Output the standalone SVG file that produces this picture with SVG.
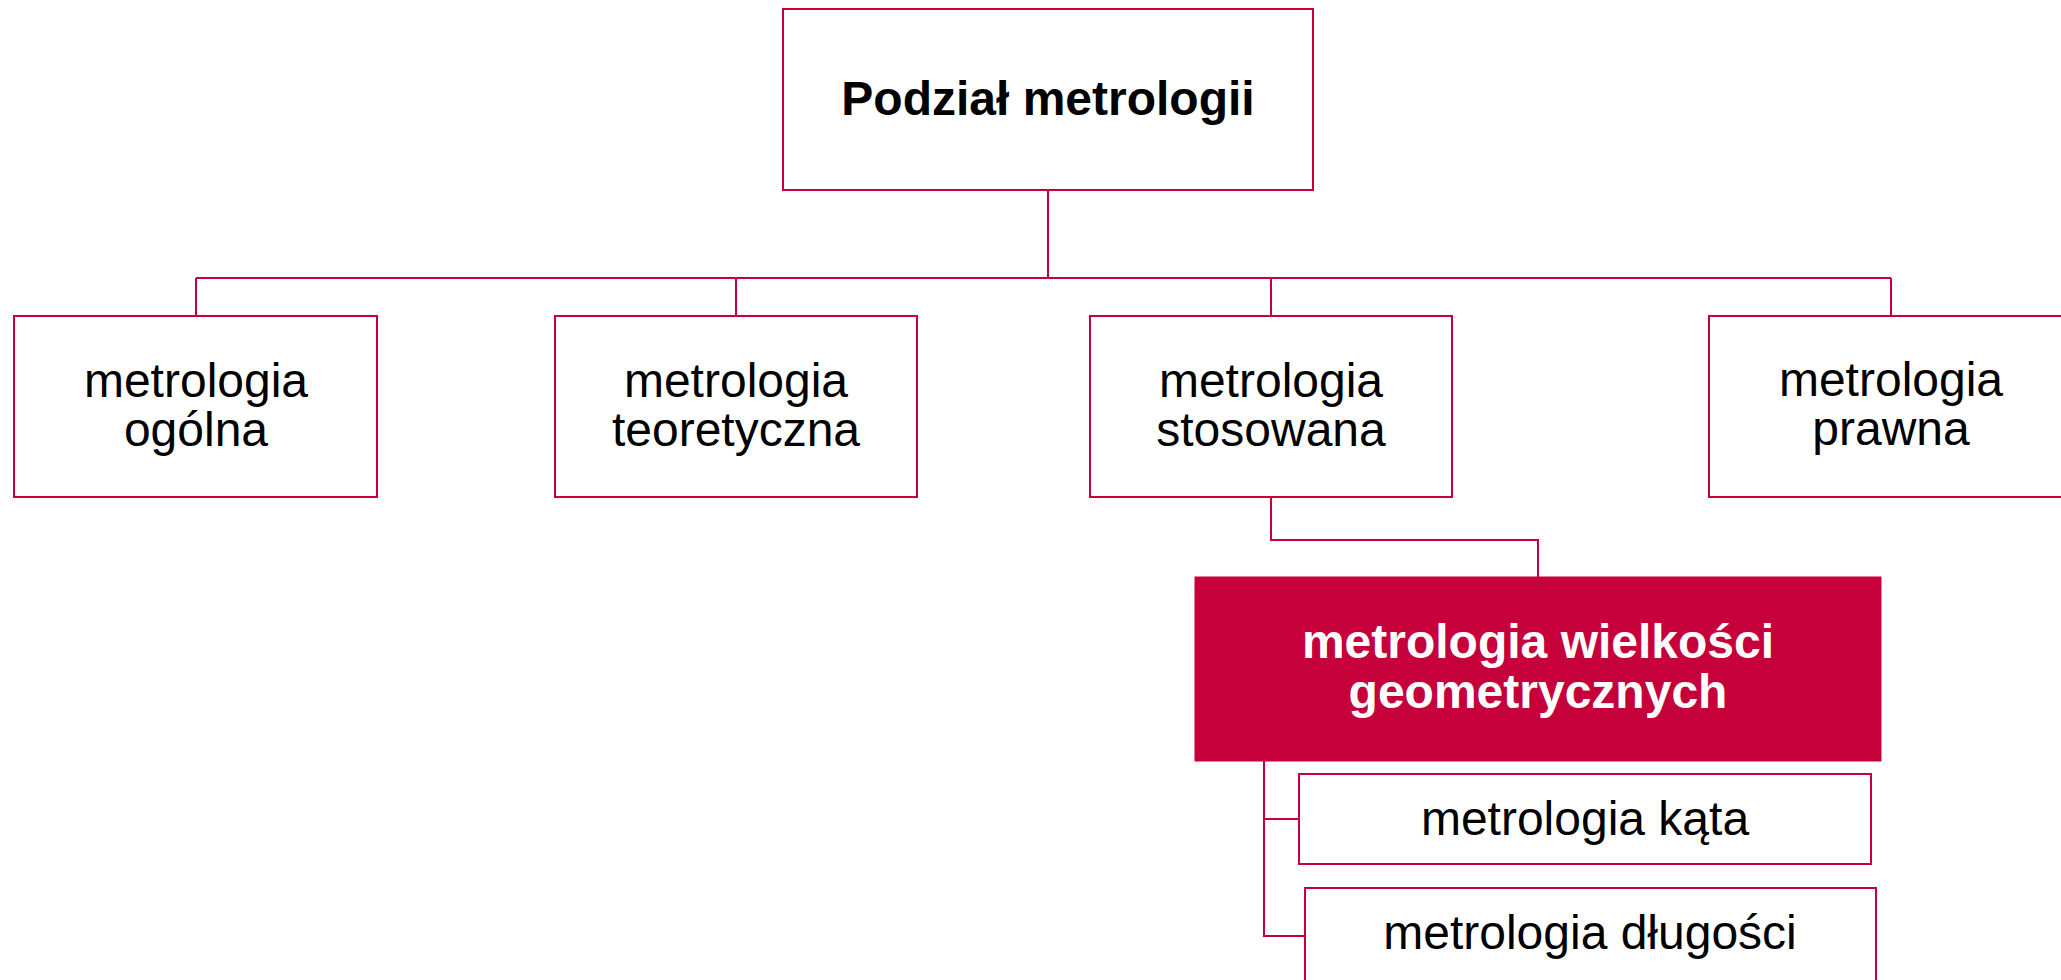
<svg xmlns="http://www.w3.org/2000/svg" width="2061" height="980" viewBox="0 0 2061 980">
<style>
.box{fill:#ffffff;stroke:#C8003A;stroke-width:2}
.hl{fill:#C5003A;stroke:#C5003A;stroke-width:1}
.t{font-family:"Liberation Sans",Arial,sans-serif;font-size:48px;fill:#000;text-anchor:middle}
.b{font-family:"Liberation Sans",Arial,sans-serif;font-size:48px;font-weight:bold;fill:#000;text-anchor:middle}
.w{font-family:"Liberation Sans",Arial,sans-serif;font-size:48px;font-weight:bold;fill:#fff;text-anchor:middle}
.c{fill:none;stroke:#C8003A;stroke-width:2}
</style>
<rect width="2061" height="980" fill="#ffffff"/>
<g id="connectors">
<path class="c" d="M1048,190 V278"/>
<path class="c" d="M196,278 H1891"/>
<path class="c" d="M196,278 V316 M736,278 V316 M1271,278 V316 M1891,278 V316"/>
<path class="c" d="M1271,497 V540 H1538 V577"/>
<path class="c" d="M1264,761 V936 H1305 M1264,819 H1299"/>
</g>
<g id="root">
<rect class="box" x="783" y="9" width="530" height="181"/>
<text class="b" x="1048" y="115">Podział metrologii</text>
</g>
<g id="ogolna">
<rect class="box" x="14" y="316" width="363" height="181"/>
<text class="t" x="196" y="397">metrologia</text>
<text class="t" x="196" y="446">ogólna</text>
</g>
<g id="teoretyczna">
<rect class="box" x="555" y="316" width="362" height="181"/>
<text class="t" x="736" y="397">metrologia</text>
<text class="t" x="736" y="446">teoretyczna</text>
</g>
<g id="stosowana">
<rect class="box" x="1090" y="316" width="362" height="181"/>
<text class="t" x="1271" y="397">metrologia</text>
<text class="t" x="1271" y="446">stosowana</text>
</g>
<g id="prawna">
<rect class="box" x="1709" y="316" width="364" height="181"/>
<text class="t" x="1891" y="396">metrologia</text>
<text class="t" x="1891" y="445">prawna</text>
</g>
<g id="geometryczne">
<rect class="hl" x="1195" y="577" width="686" height="184"/>
<text class="w" x="1538" y="658">metrologia wielkości</text>
<text class="w" x="1538" y="708">geometrycznych</text>
</g>
<g id="kata">
<rect class="box" x="1299" y="774" width="572" height="90"/>
<text class="t" x="1585" y="835">metrologia kąta</text>
</g>
<g id="dlugosci">
<rect class="box" x="1305" y="888" width="571" height="110"/>
<text class="t" x="1590" y="949">metrologia długości</text>
</g>
</svg>
